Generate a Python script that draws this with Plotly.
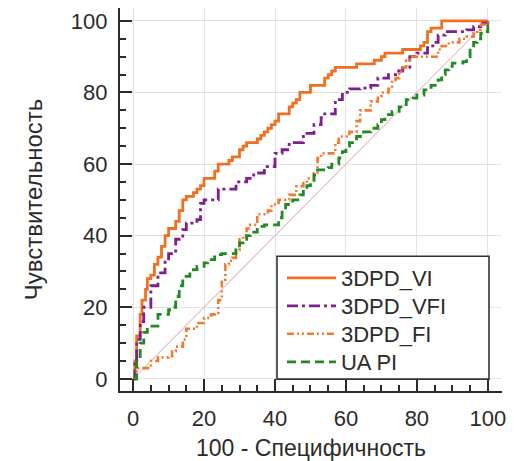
import plotly.graph_objects as go

# ROC curves: x = 100 - specificity, y = sensitivity (%)
vi_x = [0, 0.5, 1, 2, 2.5, 3.5, 4, 5, 6, 7, 8, 9, 10, 11, 12, 13, 14, 15, 17, 18, 19, 20, 22, 23, 24,
        26, 27, 28, 30, 31, 32, 34, 35, 36, 37, 38, 39, 40, 41, 43, 44, 45, 46, 47, 49, 50, 53, 54, 55,
        56, 57, 62, 63, 67, 68, 70, 71, 75, 76, 80, 81, 82, 83, 84, 86, 87, 100]
vi_y = [0, 5, 12, 18, 22, 25, 28, 29, 32, 34, 37, 40, 42, 42, 44, 47, 50, 51, 52, 53, 54, 56, 56, 58, 60,
        60, 61, 62, 64, 65, 66, 66, 67, 68, 69, 70, 71, 72, 74, 74, 76, 77, 78, 80, 80, 82, 82, 84, 85,
        86, 87, 87, 88, 88, 89, 90, 91, 91, 92, 92, 93, 94, 97, 98, 98, 100, 100]

vfi_x = [0, 0.5, 1, 2, 3, 5, 7, 9, 10, 12, 14, 15, 18, 19, 20, 22, 24, 27, 29, 32, 34, 37, 40, 42, 44,
         46, 48, 51, 53, 54, 56, 57, 59, 61, 64, 67, 69, 72, 74, 76, 78, 80, 83, 85, 86, 88, 92, 94, 96,
         98, 100]
vfi_y = [0, 5, 11, 16, 20, 26, 29.6, 33, 35, 39, 41.7, 43.5, 44.5, 49, 50, 50, 53, 53, 55, 56, 57.5, 59.3,
         63, 64, 66, 66, 68.6, 71, 73, 74, 74, 78, 80, 81, 81.2, 82, 84, 85, 86, 87, 90, 91, 93, 94, 96, 97,
         97, 97.5, 98.4, 99.4, 100]

fi_x = [0, 1, 4, 5, 7, 10, 11, 12, 14, 15, 17, 18, 20, 22, 23, 24, 25, 26, 27, 28, 29, 30, 31, 32, 33,
        35, 37, 38, 39, 41, 42, 44, 46, 48, 49, 51, 52, 53, 56, 57, 58, 59, 61, 63, 64, 66, 67, 69, 70,
        72, 73, 74, 75, 76, 77, 78, 85, 86, 87, 89, 92, 94, 96, 97, 98, 100]
fi_y = [0, 3, 3, 5, 6, 6.3, 7.7, 9, 11, 14, 14, 15.6, 17, 18, 18.4, 22, 27.7, 32, 33, 33.8, 36, 39, 40,
        42, 43, 46, 46, 47, 48.7, 50, 50, 51.4, 53.8, 54.7, 56, 57.5, 61.7, 63, 63, 66, 67.7, 67.7, 69,
        72, 75, 75, 77.5, 79, 80, 81, 83.5, 84, 86, 87, 89, 90, 90, 92, 93, 94, 95, 95.6, 96.5, 97.5,
        99, 100]

ua_x = [0, 1, 2, 3, 4, 6, 7, 9, 10, 11, 12, 13, 14, 16, 17, 18, 20, 21, 23, 25, 28, 29, 30, 31, 32,
        33, 35, 37, 40, 41, 42, 43, 45, 47, 48, 49, 50, 51, 52, 55, 56, 58, 59, 60, 61, 63, 65, 67, 69,
        70, 71, 73, 75, 77, 79, 80, 82, 84, 86, 87, 88, 89, 90, 93, 94, 95, 96, 97, 98, 99, 100]
ua_y = [0, 5, 10, 13, 14.7, 14.7, 18, 18, 19.3, 20, 23, 26, 28.6, 30, 30.5, 31.4, 32.4, 33.3, 34.7, 35,
        35, 36, 38, 39, 40, 41, 42.6, 43, 43, 45, 47, 48.7, 50, 51.4, 52.8, 54, 55, 57, 58.4, 59, 60,
        61.7, 63.5, 65, 66, 67.7, 69, 70, 71, 72.4, 73.8, 74.7, 76, 78, 78.4, 79.3, 80.7, 82, 83.5, 85,
        86.3, 87.3, 88.2, 88.6, 90, 92.4, 94, 95, 96.5, 97, 100]

diag = [0, 100]
ticks = [0, 20, 40, 60, 80, 100]

FONT = "Liberation Sans, Arial, sans-serif"
INK = "#2b2b2b"

fig = go.Figure()

fig.add_trace(go.Scatter(x=diag, y=diag, mode="lines", showlegend=False,
                         line=dict(color="#e2c4cc", width=1.2), hoverinfo="skip"))

series = [
    ("3DPD_VI", vi_x, vi_y, "#f07022", "solid", 2.8),
    ("3DPD_VFI", vfi_x, vfi_y, "#7d1f8c", "11px,4px,3px,4px", 2.8),
    ("3DPD_FI", fi_x, fi_y, "#f27a30", "7px,3px,2px,3px,2px,3px", 2.6),
    ("UA PI", ua_x, ua_y, "#238a23", "9px,5px", 2.8),
]
# one single-entry legend per series so the rows sit tightly stacked
legend_ids = ["legend", "legend2", "legend3", "legend4"]
for (name, xs, ys, color, dash, w), lg in zip(series, legend_ids):
    fig.add_trace(go.Scatter(x=xs, y=ys, mode="lines", name=name, legend=lg,
                             line=dict(color=color, dash=dash, width=w, shape="hv")))

# white legend panel with a dark border
fig.add_shape(type="rect", xref="paper", yref="paper",
              x0=0.411, x1=0.966, y0=0.031, y1=0.352,
              fillcolor="white", line=dict(color="#333333", width=1.6), layer="above")

axis_common = dict(
    showline=True, linecolor=INK, linewidth=2.2,
    ticks="inside", ticklen=12, tickwidth=2, tickcolor=INK,
    tickvals=ticks, showgrid=True, gridcolor="#e3e3e3", gridwidth=1,
    zeroline=False, automargin=False, tickfont=dict(family=FONT, size=22, color=INK),
    minor=dict(dtick=5, ticks="inside", ticklen=6, tickwidth=1.5, tickcolor=INK, showgrid=False),
)

plot_top, plot_h = 8, 383
row_y = [278, 306, 334, 362]
legend_style = dict(x=0.424, xanchor="left", yanchor="middle", bgcolor="rgba(0,0,0,0)",
                    borderwidth=0, font=dict(family=FONT, size=22, color=INK), itemwidth=49)
legends = {}
for lg, ry in zip(legend_ids, row_y):
    legends[lg] = dict(y=1 - (ry - plot_top) / plot_h, **legend_style)

fig.update_layout(
    width=526, height=461,
    margin=dict(l=120, r=24, t=8, b=70),
    paper_bgcolor="white", plot_bgcolor="white",
    font=dict(family=FONT, color=INK),
    xaxis=dict(range=[-3.7, 104], ticklabelstandoff=6,
               title=dict(text="100 - Специфичность", font=dict(family=FONT, size=23, color=INK),
                          standoff=10),
               **axis_common),
    yaxis=dict(range=[-3.4, 103.6], ticklabelstandoff=6,
               title=dict(text="Чувствительность", font=dict(family=FONT, size=24, color=INK),
                          standoff=21),
               **axis_common),
    **legends,
)

fig.write_html("out.html")
